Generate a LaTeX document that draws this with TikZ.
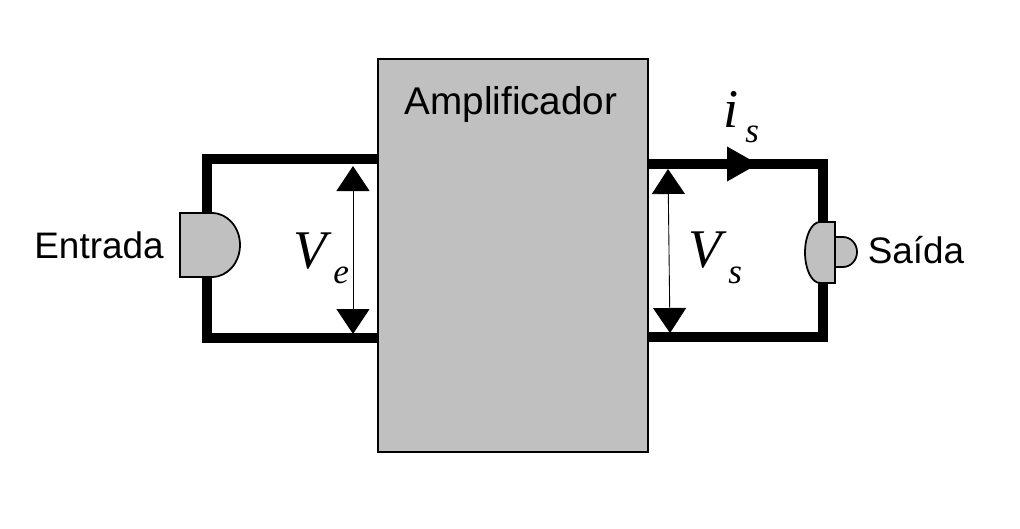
\documentclass[tikz,border=0pt]{standalone}
\usepackage{fontspec}
\setmainfont{Liberation Sans}
\newfontfamily\serifit{Liberation Serif}
\usetikzlibrary{arrows.meta}
\definecolor{boxgray}{RGB}{192,192,192}
\begin{document}
\begin{tikzpicture}[x=0.02cm,y=-0.02cm]
\tikzstyle{every node}+=[inner sep=0pt]
\tikzstyle{wire}=[line width=5.5pt,line join=miter]
\tikzstyle{plug}=[draw,line width=1pt,fill=boxgray]
\tikzstyle{volt}=[line width=0.5pt,{Triangle[length=0.5cm,width=0.66cm]}-{Triangle[length=0.5cm,width=0.66cm]}]
\tikzstyle{lbl}=[font=\fontsize{21}{25}\selectfont]
\tikzstyle{sym}=[font=\fontsize{31}{36}\selectfont\serifit\itshape]
\tikzstyle{sub}=[font=\fontsize{20}{24}\selectfont\serifit\itshape]
\useasboundingbox (0,0) rectangle (1020,528);
\coordinate (inTop) at (377,159);
\coordinate (inBot) at (377,338);
\coordinate (outTop) at (647,164);
\coordinate (outBot) at (647,337);
\coordinate (jackA) at (207,213);
\coordinate (jackB) at (207,277);
\coordinate (spkA) at (823,222);
\coordinate (spkB) at (823,283);
\draw[wire] (inTop) -- (207,159) -- (jackA);
\draw[wire] (jackB) -- (207,338) -- (inBot);
\draw[wire] (outTop) -- (823,164) -- (spkA);
\draw[wire] (spkB) -- (823,337) -- (outBot);
\node (amp) [draw,line width=1pt,fill=boxgray,anchor=north west,minimum width=5.4cm,minimum height=7.86cm] at (377,58) {};
\node (ampname) [lbl,font=\fontsize{22}{26}\selectfont,anchor=base] at (511,114) {Amplificador};
\draw[plug] (180,213) -- (212,213) arc[start angle=90,end angle=-90,x radius=0.56cm,y radius=0.64cm] -- (180,277) -- cycle;
\draw[plug] (835,222) -- (820,222) arc[start angle=90,end angle=270,x radius=0.3cm,y radius=0.61cm] -- (835,283) -- cycle;
\draw[plug] (835,237) -- (843,237) arc[start angle=90,end angle=-90,x radius=0.28cm,y radius=0.3cm] -- (835,267) -- cycle;
\node (entrada) [lbl,anchor=base] at (99,258) {Entrada};
\node (saida) [lbl,anchor=base] at (916,263) {Saída};
\coordinate (VeTop) at (353,166);
\coordinate (VeBot) at (353,334);
\coordinate (VsTop) at (668,169);
\coordinate (VsBot) at (670,333);
\draw[volt] (VeTop) -- (VeBot);
\draw[volt] (VsTop) -- (VsBot);
\node (Ve) [sym,anchor=base west] at (293,268) {V};
\node (Ve-sub) [sub,anchor=base west] at (333,283) {e};
\node (Vs) [sym,anchor=base west] at (688,267) {V};
\node (Vs-sub) [sub,anchor=base west] at (728,283) {s};
\coordinate (iTip) at (758,164);
\fill (iTip) -- ++(-31,-17.5) -- ++(0,35) -- cycle;
\node (is) [sym,anchor=base west] at (723,127) {i};
\node (is-sub) [sub,anchor=base west] at (745,142) {s};
\end{tikzpicture}
\end{document}
